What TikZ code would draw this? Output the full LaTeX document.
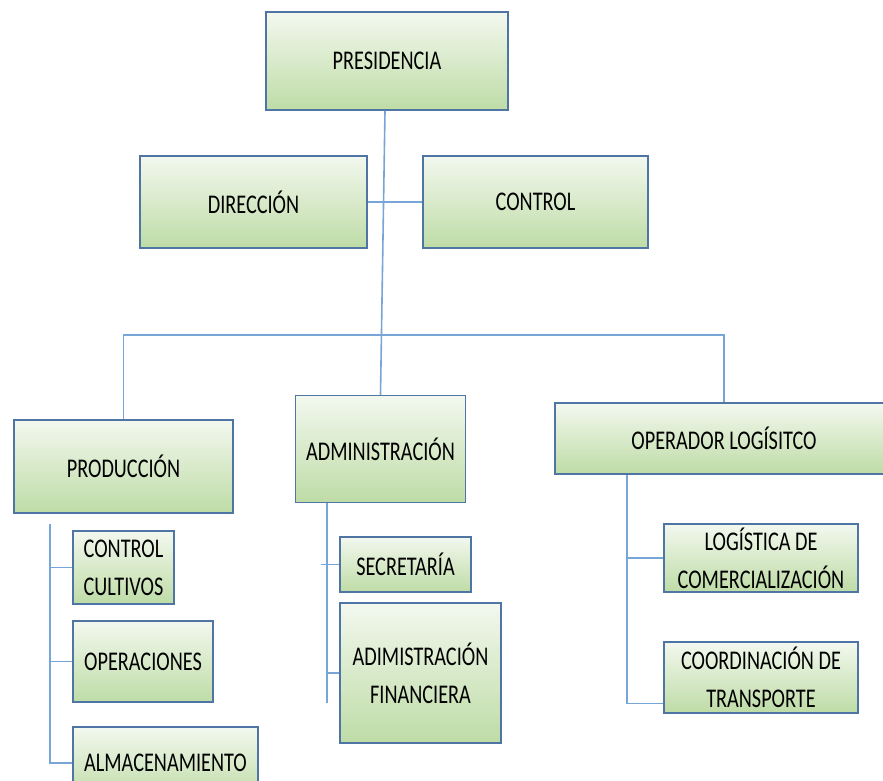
\documentclass[tikz,border=0pt]{standalone}
\usepackage{fontspec}
\setmainfont[FakeStretch=0.75]{Carlito}
\definecolor{boxtop}{RGB}{243,248,239}
\definecolor{boxbot}{RGB}{190,220,166}
\definecolor{boxline}{RGB}{79,117,165}
\definecolor{linkblue}{RGB}{120,165,215}
\tikzset{unit/.style={draw=boxline,line width=1.5pt,top color=boxtop,bottom color=boxbot,
  align=center,inner sep=0pt,font=\fontsize{27}{38}\selectfont},
  link/.style={draw=linkblue,line width=1.6pt}}

\begin{document}
\begin{tikzpicture}[x=1pt,y=-1pt]
\useasboundingbox (0,0) rectangle (883,780);
\node[unit,minimum width=242,minimum height=98] (pres) at (387,61) {PRESIDENCIA};
\node[unit,minimum width=227,minimum height=92] (dir) at (253.5,202) {DIRECCIÓN};
\node[unit,minimum width=225,minimum height=92] (ctrl) at (535.5,202) {CONTROL};
\node[unit,minimum width=219,minimum height=93] (prod) at (123.5,466.5) {PRODUCCIÓN};
\node[unit,minimum width=170,minimum height=107] (admin) at (380.5,449) {ADMINISTRACIÓN};
\node[unit,minimum width=338,minimum height=71] (oper) at (724,438.5) {OPERADOR LOGÍSITCO};
\node[unit,minimum width=101,minimum height=73] (cult) at (123.5,567.5) {CONTROL\\CULTIVOS};
\node[unit,minimum width=140,minimum height=81] (opera) at (143,661.5) {OPERACIONES};
\node[unit,minimum width=185,minimum height=72] (alm) at (165.5,763) {ALMACENAMIENTO};
\node[unit,minimum width=131,minimum height=55] (secr) at (405.5,564.5) {SECRETARÍA};
\node[unit,minimum width=161,minimum height=140] (fin) at (420.5,673) {ADIMISTRACIÓN\\FINANCIERA};
\node[unit,minimum width=194,minimum height=68] (logi) at (761,558) {LOGÍSTICA DE\\COMERCIALIZACIÓN};
\node[unit,minimum width=194,minimum height=71] (coord) at (761,677.5) {COORDINACIÓN DE\\TRANSPORTE};

\coordinate (bus) at (381,335);
\coordinate (prodtop) at (50,524);
\coordinate (admend) at (327,703);
\draw[link] ([xshift=-2pt]pres.south) -- (admin.north);
\draw[link] (dir.east) -- (ctrl.west);
\draw[link] (prod.north) |- (bus) -| (oper.north);
\draw[link] (prodtop) |- (alm.west);
\foreach \n in {cult,opera}
  \draw[link] (prodtop |- \n.west) -- (\n.west);
\draw[link] (admin.south -| admend) -- (admend);
\draw[link] ([xshift=-6pt]secr.west -| admend) -- (secr.west);
\draw[link] (fin.west -| admend) -- (fin.west);
\draw[link] (oper.south -| 627,0) |- ([yshift=-26pt]coord.west);
\draw[link] (oper.south -| 627,0) |- (logi.west);
\end{tikzpicture}
\end{document}
